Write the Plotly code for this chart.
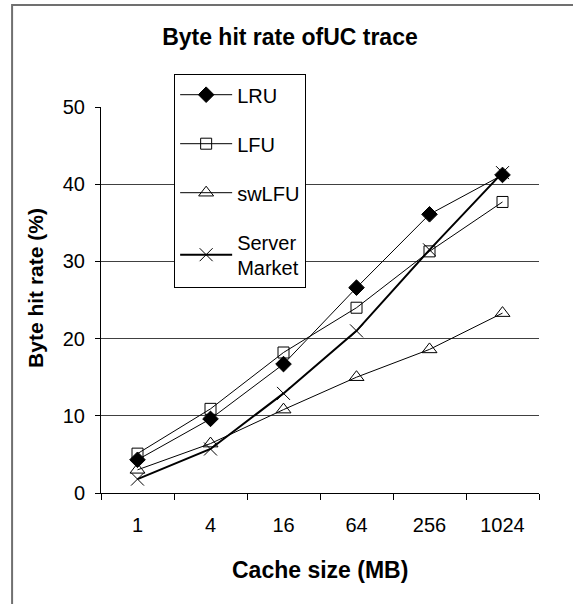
import plotly.graph_objects as go

categories = ["1", "4", "16", "64", "256", "1024"]
lru = [4.3, 9.6, 16.7, 26.6, 36.1, 41.2]
lfu = [5.1, 10.9, 18.2, 24.0, 31.3, 37.7]
swlfu = [3.0, 6.4, 10.8, 15.0, 18.6, 23.3]
server_market = [1.8, 5.7, 12.9, 21.0, 31.5, 41.5]
y_ticks = [0, 10, 20, 30, 40, 50]

FONT = "Liberation Sans, Arial, sans-serif"

fig = go.Figure()
series = [
    ("LRU", lru, dict(symbol="diamond", size=12, color="black", line=dict(width=1, color="black")), 1),
    ("LFU", lfu, dict(symbol="square-open", size=11, color="black", line=dict(width=1, color="black")), 1),
    ("swLFU", swlfu, dict(symbol="triangle-up-open", size=13, color="black", line=dict(width=1, color="black")), 1),
    ("Server<br>Market", server_market, dict(symbol="x-thin-open", size=13, color="black", line=dict(width=1, color="black")), 2),
]
for i, (name, vals, mk, lw) in enumerate(series):
    fig.add_trace(go.Scatter(
        x=categories, y=vals, name=name, mode="lines+markers",
        line=dict(color="black", width=lw), marker=mk,
        legendgroup=f"g{i}",
    ))

fig.update_layout(
    width=573, height=604,
    margin=dict(l=101, r=34, t=107, b=111),
    paper_bgcolor="white", plot_bgcolor="white",
    font=dict(family=FONT, size=20, color="black"),
    title=dict(text="<b>Byte hit rate ofUC trace</b>", x=0.506, xanchor="center",
               y=1 - 37 / 604, yanchor="middle", yref="container",
               font=dict(size=23, family=FONT)),
    showlegend=True,
    legend=dict(x=0.167, y=1.085, xanchor="left", yanchor="top",
                bgcolor="white", bordercolor="black", borderwidth=1,
                traceorder="grouped", tracegroupgap=20,
                font=dict(size=20, family=FONT), itemwidth=52,
                entrywidth=140, entrywidthmode="pixels"),
    xaxis=dict(type="category", range=[-0.5, 5.5], showgrid=False,
               showline=True, linecolor="black", linewidth=1,
               ticks="outside", tickson="boundaries", ticklen=6, tickcolor="black",
               ticklabelstandoff=14, tickfont=dict(size=20)),
    yaxis=dict(range=[0, 50], tickvals=y_ticks, showgrid=True, gridcolor="#404040",
               gridwidth=1, zeroline=False, showline=True, linecolor="black",
               linewidth=1, ticks="outside", ticklen=5, tickcolor="black",
               ticklabelstandoff=6, tickfont=dict(size=20)),
    shapes=[dict(type="rect", xref="paper", yref="paper",
                 x0=-0.203, x1=1.3, y0=-0.6, y1=1.264,
                 line=dict(color="#707070", width=2), layer="below")],
    annotations=[
        dict(text="<b>Byte hit rate (%)</b>", xref="paper", yref="paper",
             x=-0.151, y=0.531, textangle=-90, showarrow=False,
             xanchor="center", yanchor="middle", font=dict(size=21)),
        dict(text="<b>Cache size (MB)</b>", xref="paper", yref="paper",
             x=0.5, y=-0.2, showarrow=False, xanchor="center", yanchor="middle",
             font=dict(size=23)),
    ],
)

fig.write_html("out.html")
